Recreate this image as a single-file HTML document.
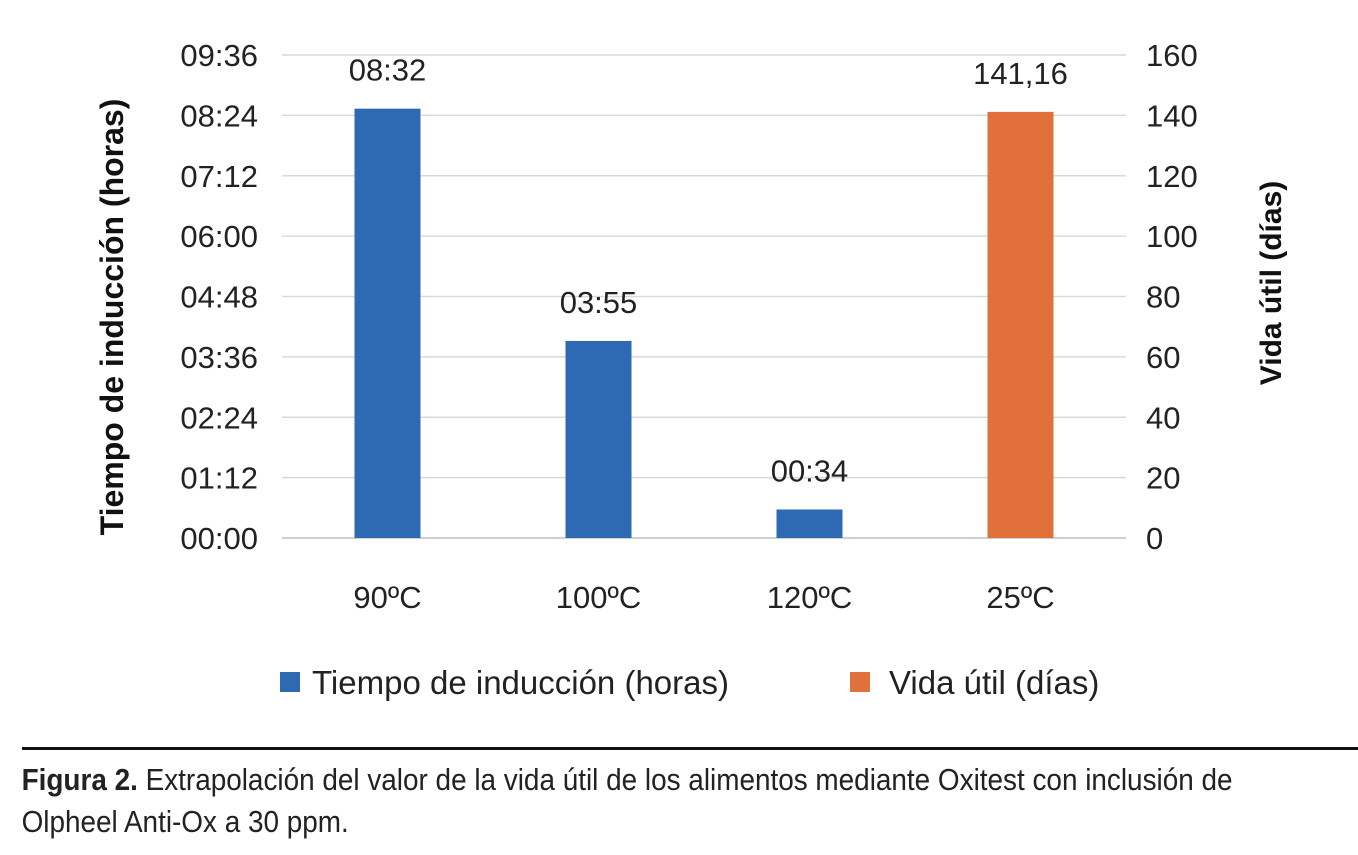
<!DOCTYPE html>
<html><head><meta charset="utf-8"><style>
body{margin:0;background:#fff;width:1358px;height:850px;overflow:hidden;font-family:"Liberation Sans",sans-serif}
</style></head><body>
<svg width="1358" height="850" id="c" xmlns="http://www.w3.org/2000/svg" font-family="Liberation Sans, sans-serif"></svg>
<script>
const categories=["90ºC","100ºC","120ºC","25ºC"];
const timeMinutes=[512,235,34,null];
const timeLabels=["08:32","03:55","00:34",null];
const lifeDays=[null,null,null,141.16];
const lifeLabels=[null,null,null,"141,16"];
const leftTicks=["00:00","01:12","02:24","03:36","04:48","06:00","07:12","08:24","09:36"];
const rightTicks=[0,20,40,60,80,100,120,140,160];
const NS="http://www.w3.org/2000/svg",svg=document.getElementById('c');
function mk(t,a,txt){const e=document.createElementNS(NS,t);for(const k in a)e.setAttribute(k,a[k]);if(txt!=null)e.textContent=txt;svg.appendChild(e);return e;}
const x0=282,x1=1126,yB=538,yT=55;
const yL=m=>yB-(m/576)*(yB-yT);
const yR=v=>yB-(v/160)*(yB-yT);
const band=(x1-x0)/categories.length;
const xc=i=>x0+band*(i+0.5);
leftTicks.forEach((t,i)=>{const y=yB-i*(yB-yT)/8;
 const g=mk('line',{x1:x0,x2:x1,y1:y,y2:y,stroke:i==0?'#bfbfbf':'#d9d9d9','stroke-width':1.5});
 
 const l=mk('text',{x:258,y:y+11,'text-anchor':'end','font-size':31,fill:'#222'},t);
 
 const r=mk('text',{x:1146,y:y+11,'font-size':31,fill:'#222'},rightTicks[i]);
 
});
const bw=66;
categories.forEach((c,i)=>{
 let top=null,lab=null,col;
 if(timeMinutes[i]!=null){top=yL(timeMinutes[i]);lab=timeLabels[i];col='#2E69B3';}
 else if(lifeDays[i]!=null){top=yR(lifeDays[i]);lab=lifeLabels[i];col='#E2703A';}
 if(top!=null){
  const b=mk('rect',{x:xc(i)-bw/2,y:top,width:bw,height:yB-top,fill:col});
  
  const v=mk('text',{x:xc(i),y:top-28,'text-anchor':'middle','font-size':31,fill:'#222'},lab);
  
 }
 const t=mk('text',{x:xc(i),y:608,'text-anchor':'middle','font-size':31,fill:'#222'},c);
 
});
</script>
<svg style="position:absolute;left:0;top:0" width="1358" height="850" xmlns="http://www.w3.org/2000/svg" font-family="Liberation Sans, sans-serif">
<text transform="translate(123,317) rotate(-90)" text-anchor="middle" font-size="32" font-weight="bold" fill="#111">Tiempo de inducción (horas)</text>
<text transform="translate(1281,283) rotate(-90)" text-anchor="middle" font-size="30" font-weight="bold" fill="#111">Vida útil (días)</text>
<rect x="280" y="672" width="20" height="20" fill="#2E69B3"/>
<text x="312" y="694" font-size="33" fill="#222">Tiempo de inducción (horas)</text>
<rect x="850" y="672" width="20" height="20" fill="#E2703A"/>
<text x="889" y="694" font-size="33" fill="#222">Vida útil (días)</text>
<rect x="22" y="747" width="1336" height="3" fill="#111"/>
<g font-size="31" fill="#222" transform="scale(0.9,1)">
<text x="24" y="790"><tspan font-weight="bold">Figura 2.</tspan> Extrapolación del valor de la vida útil de los alimentos mediante Oxitest con inclusión de</text>
<text x="24" y="832">Olpheel Anti-Ox a 30 ppm.</text>
</g>
</svg>
</body></html>
